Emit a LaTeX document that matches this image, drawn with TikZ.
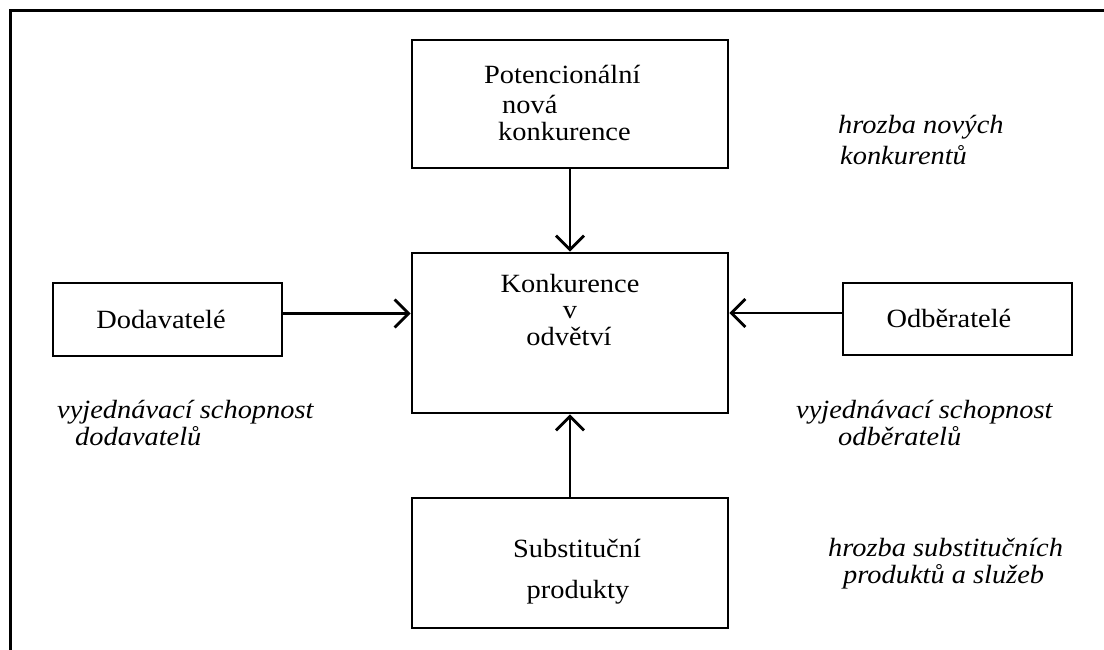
\documentclass[tikz,border=0pt]{standalone}
\usepackage{fontspec}
\setmainfont{Liberation Serif}[FakeStretch=1.08]
\usetikzlibrary{arrows.meta}
\begin{document}
\begin{tikzpicture}[x=1pt,y=-1pt,
  box/.style={draw, line width=2.8pt, inner sep=0pt},
  txt/.style={inner sep=0pt, font=\fontsize{26.3}{30}\selectfont},
  lab/.style={inner sep=0pt, font=\fontsize{26.3}{30}\selectfont\itshape},
  arr/.style={line width=2.8pt, -{Straight Barb[length=14pt,width=28pt]}},
  frame/.style={line width=3pt}]
\useasboundingbox (0,0) rectangle (1104,650);
\fill[white] (0,0) rectangle (1104,650);
\draw[frame] (1104,11) -- (10,11) -- (10,650);

% boxes
\node[box, minimum width=316pt, minimum height=128pt] (pot) at (570,104) {};
\node[box, minimum width=316pt, minimum height=160pt] (kon) at (570,333) {};
\node[box, minimum width=229pt, minimum height=73pt] (dod) at (167.5,319.5) {};
\node[box, minimum width=229pt, minimum height=72pt] (odb) at (957.5,319) {};
\node[box, minimum width=316pt, minimum height=130pt] (sub) at (570,563) {};

% box texts
\node[txt, anchor=base west] (pot1) at (484,84) {Potencionální};
\node[txt, anchor=base west] (pot2) at (502,114) {nová};
\node[txt, anchor=base west] (pot3) at (498,141) {konkurence};
\node[txt, anchor=base] (kon1) at (570,292) {Konkurence};
\node[txt, anchor=base] (kon2) at (570,318) {v};
\node[txt, anchor=base] (kon3) at (569,345) {odvětví};
\node[txt, anchor=base] (dodt) at (161,328) {Dodavatelé};
\node[txt, anchor=base] (odbt) at (949,327) {Odběratelé};
\node[txt, anchor=base] (sub1) at (577,557) {Substituční};
\node[txt, anchor=base] (sub2) at (578,598) {produkty};

% italic labels
\node[lab, anchor=base west] (l1a) at (838,134) {hrozba nových};
\node[lab, anchor=base west] (l1b) at (840,165) {konkurentů};
\node[lab, anchor=base west] (l2a) at (57,418) {vyjednávací schopnost};
\node[lab, anchor=base west] (l2b) at (75,445) {dodavatelů};
\node[lab, anchor=base west] (l3a) at (796,418) {vyjednávací schopnost};
\node[lab, anchor=base west] (l3b) at (838,445) {odběratelů};
\node[lab, anchor=base west] (l4a) at (828,556) {hrozba substitučních};
\node[lab, anchor=base west] (l4b) at (843,583) {produktů a služeb};

% connectors
\draw[arr] (pot.south) -- (kon.north);
\draw[arr] (sub.north) -- (kon.south);
\draw[arr] ([yshift=6pt]dod.east) -- ([yshift=6pt]dod.east -| kon.west);
\draw[arr] ([yshift=6pt]odb.west) -- ([yshift=6pt]odb.west -| kon.east);
\end{tikzpicture}
\end{document}
